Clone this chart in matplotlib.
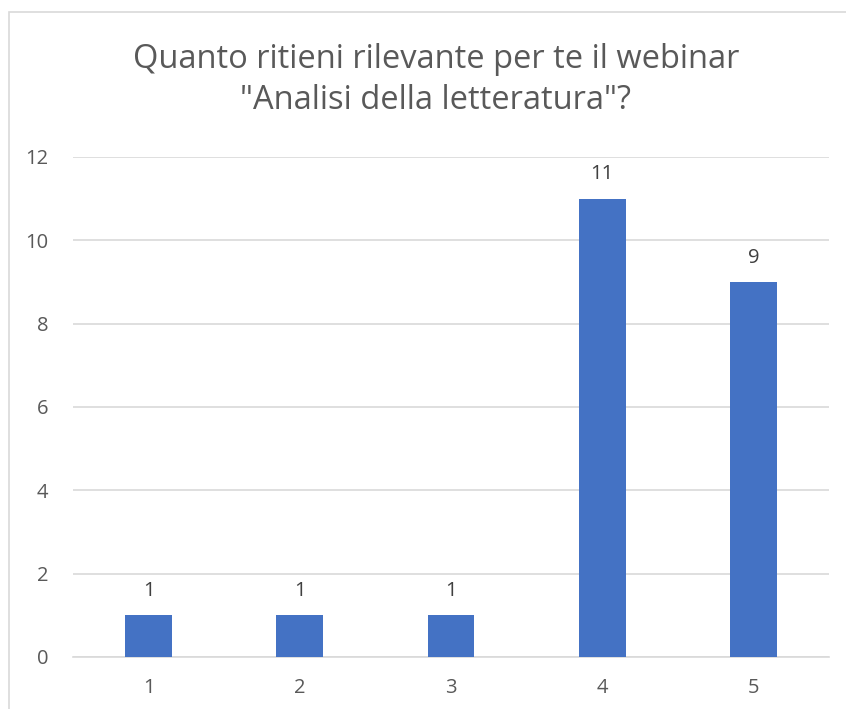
import matplotlib
matplotlib.use('Agg')
import matplotlib.pyplot as plt
from matplotlib.patches import Rectangle

# data
categories = ['1', '2', '3', '4', '5']
counts = [1, 1, 1, 11, 9]
y_ticks = [0, 2, 4, 6, 8, 10, 12]
title = 'Quanto ritieni rilevante per te il webinar\n"Analisi della letteratura"?'

plt.rcParams['font.family'] = ['Open Sans', 'DejaVu Sans']

fig = plt.figure(figsize=(8.46, 7.09), dpi=100)
ax = fig.add_axes([73 / 846, 1 - 657 / 709, 756 / 846, 500 / 709])

# outer chart frame (cut off at right and bottom like the source)
fig.patches.append(Rectangle((9 / 846, -0.05), 1.1, 1 - 12 / 709 + 0.05,
                             transform=fig.transFigure, fill=False,
                             edgecolor='#d9d9d9', lw=1.2))

x = range(len(categories))
bars = ax.bar(x, counts, width=0.31, color='#4472c4', zorder=3)

for b, v in zip(bars, counts):
    ax.annotate(str(v), (b.get_x() + b.get_width() / 2, v),
                xytext=(0, 17.5), textcoords='offset points',
                ha='center', va='center', fontsize=14.5, color='#404040')

ax.set_xlim(-0.5, len(categories) - 0.5)
ax.set_ylim(0, 12)
ax.set_yticks(y_ticks)
ax.set_xticks(list(x))
ax.set_xticklabels(categories)
ax.yaxis.grid(True, color='#d9d9d9', lw=1.2, zorder=0)
ax.set_axisbelow(True)
for s in ['top', 'right', 'left']:
    ax.spines[s].set_visible(False)
ax.spines['bottom'].set_color('#d9d9d9')
ax.spines['bottom'].set_linewidth(1.2)
ax.tick_params(length=0, labelsize=14.5, labelcolor='#595959')
ax.tick_params(axis='y', pad=18)
ax.tick_params(axis='x', pad=15)

fig.text(0.5 * (73 + 829) / 846 - 0.018, 1 - 80 / 709, title, ha='center', va='center',
         fontsize=23.5, color='#595959', linespacing=1.33)

fig.savefig('out.png', dpi=100)
